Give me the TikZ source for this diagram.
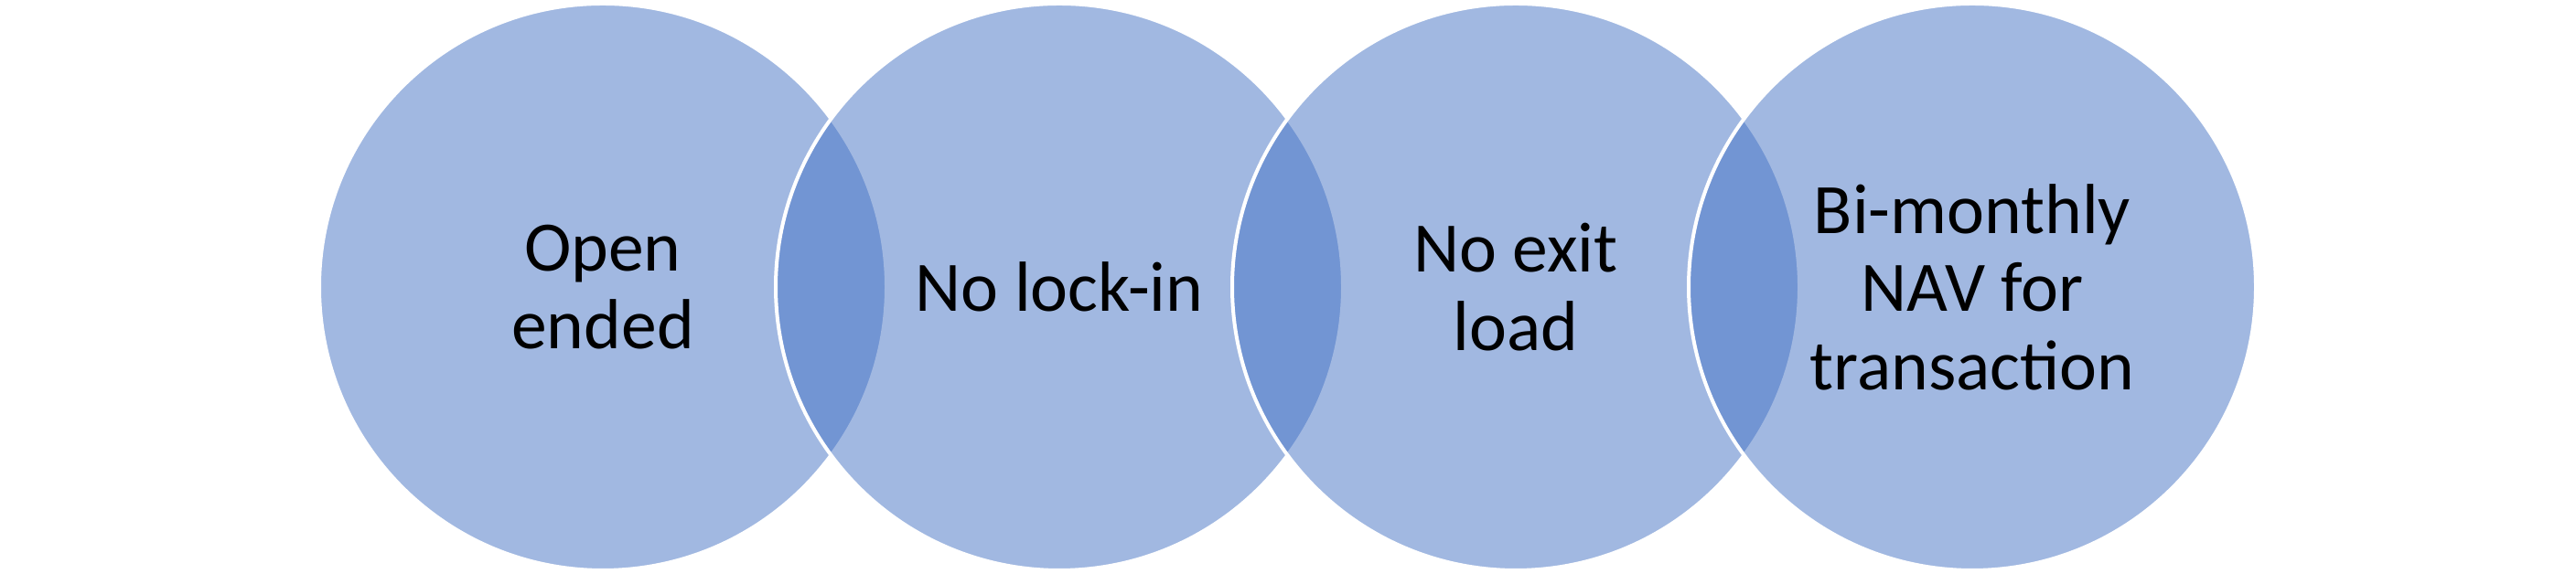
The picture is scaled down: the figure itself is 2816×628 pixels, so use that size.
\documentclass[tikz,border=0pt]{standalone}
\usepackage{fontspec}
\setmainfont{Carlito}
\definecolor{acc}{HTML}{4472C4}
\begin{document}
\begin{tikzpicture}[x=0.25pt,y=0.25pt,
  venn/.style={circle, minimum size=155pt, inner sep=0pt, fill=acc, fill opacity=0.5,
    text opacity=1, draw=white, line width=1pt, align=center,
    font=\fontsize{19.4}{21.4}\selectfont, text=black}]
\useasboundingbox (0,0) rectangle (2816,628);
\node[venn] (c1) at (659,314) {Open\\ended};
\node[venn] (c2) at (1158,314) {No lock-in};
\node[venn] (c3) at (1657,314) {No exit\\load};
\node[venn] (c4) at (2156,314) {Bi-monthly\\NAV for\\transaction};
\end{tikzpicture}
\end{document}
